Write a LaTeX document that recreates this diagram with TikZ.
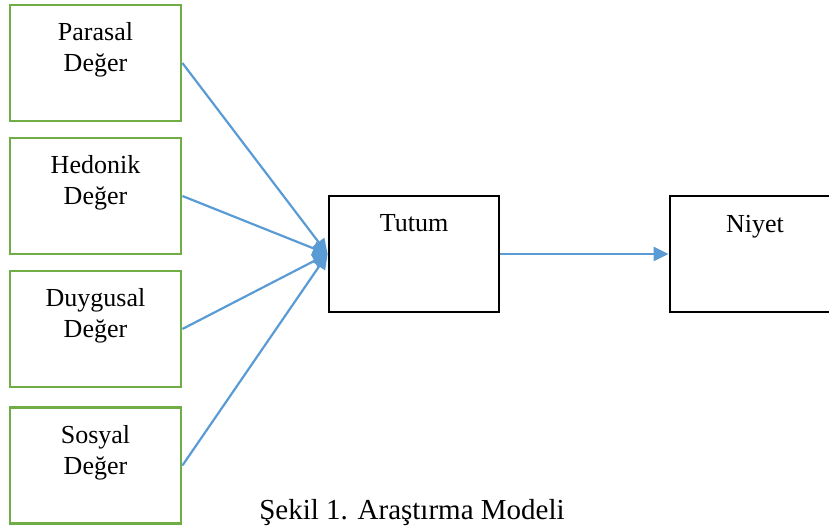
\documentclass[tikz,border=0pt]{standalone}
\usepackage{fontspec}
\setmainfont{Liberation Serif}
\usetikzlibrary{arrows.meta}
\definecolor{boxgreen}{HTML}{70AD47}
\definecolor{arrblue}{HTML}{5B9BD5}
\begin{document}
\begin{tikzpicture}[x=1pt,y=-1pt,
  greenbox/.style={draw=boxgreen,line width=2.8pt,minimum width=171pt,minimum height=116pt,inner sep=0pt},
  blackbox/.style={draw=black,line width=2.8pt,minimum width=170pt,minimum height=116pt,inner sep=0pt},
  lbl/.style={anchor=north,inner sep=0pt,align=center,font=\fontsize{26}{31}\selectfont},
  arr/.style={draw=arrblue,line width=2.2pt,-{Triangle[length=15pt,width=14pt]}}]
\useasboundingbox (0,0) rectangle (829,526);
% left boxes
\node[greenbox] (p) at (95.5,63) {};
\node[greenbox] (h) at (95.5,196) {};
\node[greenbox] (d) at (95.5,329) {};
\node[greenbox] (s) at (95.5,465.5) {};
\node[lbl] (pl) at ([yshift=-19pt]p.north) {Parasal\\Değer};
\node[lbl] (hl) at ([yshift=-19pt]h.north) {Hedonik\\Değer};
\node[lbl] (dl) at ([yshift=-19pt]d.north) {Duygusal\\Değer};
\node[lbl] (sl) at ([yshift=-19pt]s.north) {Sosyal\\Değer};
% middle and right boxes
\node[blackbox] (t) at (414,254) {};
\node[blackbox] (n) at (755,254) {};
\node[lbl] (tl) at ([yshift=-20pt]t.north) {Tutum};
\node[lbl] (nl) at ([yshift=-20pt]n.north) {Niyet};
% arrows
\draw[arr] (p.east) -- (t.west);
\draw[arr] (h.east) -- (t.west);
\draw[arr] (d.east) -- (t.west);
\draw[arr] (s.east) -- (t.west);
\draw[arr] (t.east) -- (n.west);
% caption
\node[anchor=base,inner sep=0pt,font=\fontsize{29}{34}\selectfont] (cap) at (412,519) {Şekil 1. Araştırma Modeli};
\end{tikzpicture}
\end{document}
